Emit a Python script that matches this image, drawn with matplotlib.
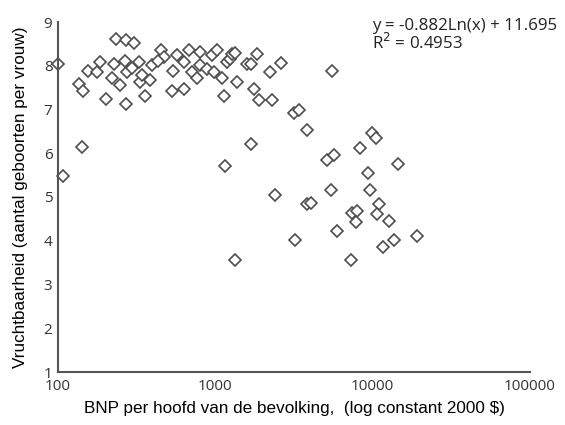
import matplotlib
matplotlib.use("Agg")
import matplotlib.pyplot as plt

# BNP per hoofd (constant 2000 $) en vruchtbaarheid
bnp = [100, 107, 136, 145, 143, 156, 178, 185, 201, 234,
       228, 220, 246, 271, 305, 268, 276, 271, 295, 325,
       330, 341, 358, 386, 395, 451, 473, 435, 542, 530,
       570, 628, 635, 677, 711, 764, 794, 802, 885, 953,
       976, 1025, 1103, 1130, 1188, 1233, 1277, 1327, 1375, 1158,
       1341, 1592, 1695, 1845, 1754, 1889, 1695, 2297, 2240, 2619,
       2410, 3155, 3396, 3837, 5535, 5144, 5673, 8300, 9950, 10450,
       14500, 9340, 5400, 9620, 3840, 4030, 10970, 10600, 12700, 7430,
       7910, 7800, 5960, 3187, 13680, 11700, 19060, 7240]
vrucht = [8.05, 5.47, 7.59, 7.42, 6.14, 7.88, 7.85, 8.08, 7.24, 8.62,
          8.03, 7.71, 7.55, 8.58, 8.52, 8.10, 7.86, 7.12, 7.95, 8.08,
          7.63, 7.78, 7.32, 7.67, 8.01, 8.35, 8.21, 8.12, 7.89, 7.42,
          8.24, 8.08, 7.48, 8.35, 7.86, 7.71, 8.31, 8.01, 7.93, 8.24,
          7.86, 8.35, 7.71, 7.32, 8.08, 8.16, 8.27, 8.30, 7.64, 5.71,
          3.57, 8.05, 8.05, 8.27, 7.48, 7.21, 6.21, 7.21, 7.86, 8.06,
          5.04, 6.91, 6.98, 6.54, 7.87, 5.85, 5.95, 6.11, 6.46, 6.34,
          5.75, 5.54, 5.16, 5.17, 4.85, 4.87, 4.84, 4.62, 4.45, 4.64,
          4.68, 4.43, 4.23, 4.01, 4.01, 3.85, 4.11, 3.56]

xticks = [100, 1000, 10000, 100000]
yticks = [1, 2, 3, 4, 5, 6, 7, 8, 9]

fig = plt.figure(figsize=(5.65, 4.25), dpi=100)
ax = fig.add_axes([58/565, 1-372/425, (530-58)/565, (372-22)/425])

ax.plot(bnp, vrucht, linestyle="none", marker="D", markersize=6.2,
        markerfacecolor="white", markeredgecolor="#4d4d4d", markeredgewidth=1.2,
        clip_on=False)

ax.set_xscale("log")
ax.set_xlim(100, 100000)
ax.set_ylim(1, 9)
ax.set_xticks(xticks)
ax.set_xticklabels([str(t) for t in xticks])
ax.set_yticks(yticks)
ax.set_yticklabels([str(t) for t in yticks])
ax.minorticks_off()
ax.tick_params(length=0, labelsize=11, colors="#333333")
ax.tick_params(axis="x", pad=5)
ax.tick_params(axis="y", pad=4)
for lab in ax.get_xticklabels() + ax.get_yticklabels():
    lab.set_family("Open Sans")

for s in ["top", "right"]:
    ax.spines[s].set_visible(False)
for s in ["left", "bottom"]:
    ax.spines[s].set_color("#555555")
    ax.spines[s].set_linewidth(1.5)

ax.set_xlabel("BNP per hoofd van de bevolking,  (log constant 2000 $)",
              family="Liberation Sans", fontsize=12.3, labelpad=5)
ax.set_ylabel("Vruchtbaarheid (aantal geboorten per vrouw)",
              family="Liberation Sans", fontsize=12.3, labelpad=11)

fig.text(372/565, 1-26/425, "y = -0.882Ln(x) + 11.695", family="Open Sans",
         fontsize=12.2, va="center", ha="left", color="#222222")
fig.text(372/565, 1-43/425, "R$^2$ = 0.4953", family="Open Sans",
         fontsize=12.2, va="center", ha="left", color="#222222")

fig.savefig("out.png", dpi=100)
